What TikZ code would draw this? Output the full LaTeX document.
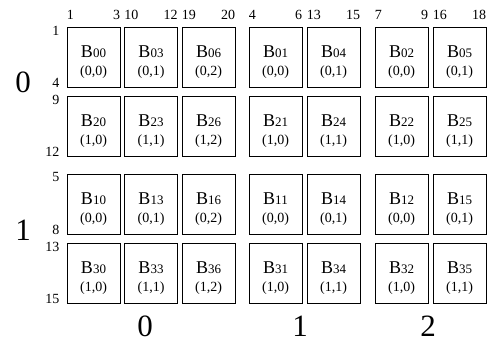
\documentclass[tikz,border=0pt]{standalone}
\usepackage{fontspec}
\setmainfont{Liberation Serif}
\newcommand\fsz[1]{\fontsize{#1}{#1}\selectfont}
\newcommand\blk[5]{%
  \node[box] (#1) at (#2,#3) {};
  \node[btxt] (#1t) at ([yshift=-0.5pt]#1.center) {B{\fsz{13}#4}};
  \node[ctxt] (#1c) at ([yshift=-18pt]#1.center) {#5};
}
\newcommand\toplab[3]{%
  \node[tlab,anchor=base west] (#1l) at ([yshift=7pt]#1.north west) {#2};
  \node[tlab,anchor=base east] (#1r) at ([yshift=7pt]#1.north east) {#3};
}
\newcommand\sidelab[3]{%
  \node[tlab,anchor=north east] (#1u) at ([xshift=-7pt,yshift=1pt]#1.north west) {#2};
  \node[tlab,anchor=base east] (#1d) at ([xshift=-7pt]#1.south west) {#3};
}
\begin{document}
\begin{tikzpicture}[x=1pt,y=-1pt,
  box/.style={draw=black,line width=0.8pt,minimum width=53pt,minimum height=60.5pt,inner sep=0pt},
  btxt/.style={anchor=base,inner sep=0pt,font=\fsz{18}},
  ctxt/.style={anchor=base,inner sep=0pt,font=\fsz{14}},
  tlab/.style={inner sep=0pt,font=\fsz{14}},
  big/.style={anchor=base,inner sep=0pt,font=\fsz{31}}]
\useasboundingbox (0,0) rectangle (492,343);
% row 0
\blk{b00}{93.5}{57.25}{00}{(0,0)}
\blk{b03}{151}{57.25}{03}{(0,1)}
\blk{b06}{208.5}{57.25}{06}{(0,2)}
\blk{b01}{275.5}{57.25}{01}{(0,0)}
\blk{b04}{333.5}{57.25}{04}{(0,1)}
\blk{b02}{401.5}{57.25}{02}{(0,0)}
\blk{b05}{459.5}{57.25}{05}{(0,1)}
% row 1
\blk{b20}{93.5}{126.25}{20}{(1,0)}
\blk{b23}{151}{126.25}{23}{(1,1)}
\blk{b26}{208.5}{126.25}{26}{(1,2)}
\blk{b21}{275.5}{126.25}{21}{(1,0)}
\blk{b24}{333.5}{126.25}{24}{(1,1)}
\blk{b22}{401.5}{126.25}{22}{(1,0)}
\blk{b25}{459.5}{126.25}{25}{(1,1)}
% row 2
\blk{b10}{93.5}{204.25}{10}{(0,0)}
\blk{b13}{151}{204.25}{13}{(0,1)}
\blk{b16}{208.5}{204.25}{16}{(0,2)}
\blk{b11}{275.5}{204.25}{11}{(0,0)}
\blk{b14}{333.5}{204.25}{14}{(0,1)}
\blk{b12}{401.5}{204.25}{12}{(0,0)}
\blk{b15}{459.5}{204.25}{15}{(0,1)}
% row 3
\blk{b30}{93.5}{273.25}{30}{(1,0)}
\blk{b33}{151}{273.25}{33}{(1,1)}
\blk{b36}{208.5}{273.25}{36}{(1,2)}
\blk{b31}{275.5}{273.25}{31}{(1,0)}
\blk{b34}{333.5}{273.25}{34}{(1,1)}
\blk{b32}{401.5}{273.25}{32}{(1,0)}
\blk{b35}{459.5}{273.25}{35}{(1,1)}
% top labels
\toplab{b00}{1}{3}
\toplab{b03}{10}{12}
\toplab{b06}{19}{20}
\toplab{b01}{4}{6}
\toplab{b04}{13}{15}
\toplab{b02}{7}{9}
\toplab{b05}{16}{18}
% side labels
\sidelab{b00}{1}{4}
\sidelab{b20}{9}{12}
\sidelab{b10}{5}{8}
\sidelab{b30}{13}{15}
% big labels
\node[big] (r0) at (23,92) {0};
\node[big] (r1) at (23,240) {1};
\node[big] (c0) at (145,336) {0};
\node[big] (c1) at (300,336) {1};
\node[big] (c2) at (428,336) {2};
\end{tikzpicture}
\end{document}
